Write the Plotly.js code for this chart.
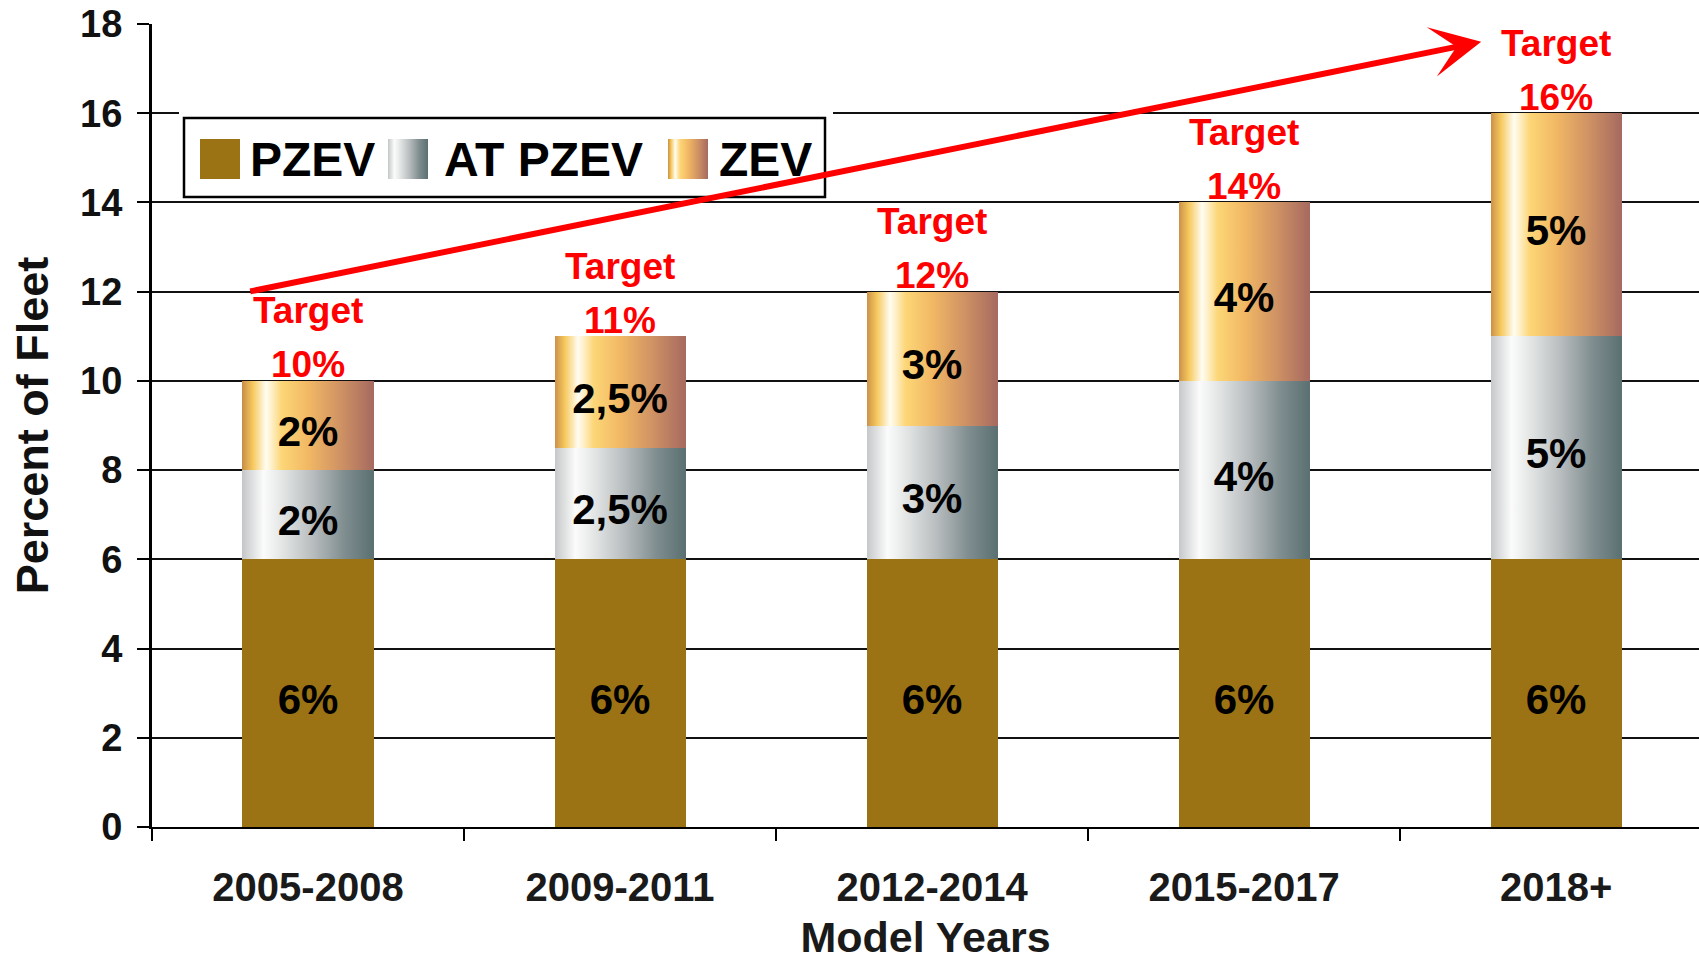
<!DOCTYPE html>
<html><head><meta charset="utf-8">
<script src="https://cdn.plot.ly/plotly-3.0.1.min.js"></script>
<style>html,body{margin:0;padding:0;background:#fff;} #chart{width:1699px;height:962px;}</style>
</head><body><div id="chart"></div>
<script>
const categories = ['2005-2008', '2009-2011', '2012-2014', '2015-2017', '2018+'];
const pzev = [6, 6, 6, 6, 6];
const atPzev = [2, 2.5, 3, 4, 5];
const zev = [2, 2.5, 3, 4, 5];
const seriesNames = ['PZEV', 'AT PZEV', 'ZEV'];
const yTicks = [0, 2, 4, 6, 8, 10, 12, 14, 16, 18];
const targetWord = 'Target';
const arrowFrom = [-0.19, 12.0];
const arrowTo = [3.76, 17.6];

const FONT = 'Liberation Sans, Arial, Helvetica, sans-serif';
const W = 1699, H = 962, ML = 152, MR = 0, MT = 24, MB = 135;
const PW = W - ML - MR, PH = H - MT - MB;
const px2x = p => (p - ML) / PW;
const px2y = p => (H - MB - p) / PH;
const fmt = v => String(v).replace('.', ',') + '%';
const totals = categories.map((_, i) => pzev[i] + atPzev[i] + zev[i]);
const colors = ['#9B7214', '#A9B1B3', '#F0B460'];

function barTrace(name, vals, color) {
  return {
    type: 'bar', name: name, x: categories, y: vals,
    text: vals.map(fmt), textposition: 'inside', insidetextanchor: 'middle',
    constraintext: 'none', textangle: 0,
    textfont: {family: FONT, size: 42, color: '#000', weight: 'bold'},
    marker: {color: color, line: {width: 0}},
    hoverinfo: 'skip', showlegend: false
  };
}
const data = [
  barTrace(seriesNames[0], pzev, colors[0]),
  barTrace(seriesNames[1], atPzev, colors[1]),
  barTrace(seriesNames[2], zev, colors[2])
];

const annotations = [];
categories.forEach((c, i) => {
  annotations.push({x: c, y: totals[i], text: targetWord, showarrow: false, yanchor: 'middle', yshift: 70,
    font: {family: FONT, size: 37, color: '#ff0000', weight: 'bold'}});
  annotations.push({x: c, y: totals[i], text: totals[i] + '%', showarrow: false, yanchor: 'middle', yshift: 16,
    font: {family: FONT, size: 37, color: '#ff0000', weight: 'bold'}});
});

// manual legend (box, swatches, labels)
const shapes = [];
shapes.push({type: 'rect', xref: 'paper', yref: 'paper', layer: 'above',
  x0: px2x(179), x1: px2x(833), y0: px2y(108), y1: px2y(201), fillcolor: '#fff', line: {width: 0}});
shapes.push({type: 'rect', xref: 'paper', yref: 'paper', layer: 'above',
  x0: px2x(184), x1: px2x(825), y0: px2y(118), y1: px2y(197), fillcolor: '#fff', line: {color: '#000', width: 2.5}});
const legSwatchX = [200, 388, 668];
const legTextX = [248, 442, 717];
seriesNames.forEach((n, i) => {
  shapes.push({type: 'rect', xref: 'paper', yref: 'paper', layer: 'above',
    x0: px2x(legSwatchX[i]), x1: px2x(legSwatchX[i] + 40), y0: px2y(139), y1: px2y(179),
    fillcolor: colors[i], line: {width: 0}});
  annotations.push({xref: 'paper', yref: 'paper', x: px2x(legTextX[i]), y: px2y(159), xanchor: 'left', yanchor: 'middle',
    text: n, showarrow: false, font: {family: FONT, size: 48, color: '#000', weight: 'bold'}});
});

annotations.push({x: arrowTo[0], y: arrowTo[1], ax: arrowFrom[0], ay: arrowFrom[1], axref: 'x', ayref: 'y',
  xref: 'x', yref: 'y', text: '', showarrow: true, arrowhead: 3, arrowsize: 1.4, arrowwidth: 6,
  arrowcolor: '#ff0000', standoff: 0, startstandoff: 0});

const layout = {
  width: W, height: H,
  margin: {l: ML, r: MR, t: MT, b: MB},
  paper_bgcolor: '#fff', plot_bgcolor: '#fff',
  barmode: 'stack', bargap: 0.58,
  font: {family: FONT, color: '#000', weight: 'bold'},
  showlegend: false,
  xaxis: {type: 'category', range: [-0.5, 4.458], showgrid: false, zeroline: false,
    showline: true, linecolor: '#000', linewidth: 2,
    ticks: 'outside', tickson: 'boundaries', ticklen: 12, tickwidth: 2, tickcolor: '#000',
    tickfont: {family: FONT, size: 40, color: '#1a1a1a', weight: 'bold'}, ticklabelstandoff: 24,
    title: {text: 'Model Years', standoff: 14, font: {family: FONT, size: 43, color: '#1a1a1a', weight: 'bold'}}},
  yaxis: {range: [0, 18], tickmode: 'array', tickvals: yTicks, ticktext: yTicks.map(String),
    showgrid: true, gridcolor: '#111', gridwidth: 2, zeroline: false,
    showline: true, linecolor: '#000', linewidth: 3,
    ticks: 'outside', ticklen: 12, tickwidth: 2, tickcolor: '#000',
    tickfont: {family: FONT, size: 38, color: '#111', weight: 'bold'}, ticklabelstandoff: 7,
    title: {text: 'Percent of Fleet', standoff: 18, font: {family: FONT, size: 45, color: '#111', weight: 'bold'}}},
  shapes: shapes,
  annotations: annotations
};

Plotly.newPlot('chart', data, layout, {staticPlot: true, displayModeBar: false}).then(gd => {
  const NS = 'http://www.w3.org/2000/svg';
  const defs = gd.querySelector('svg.main-svg defs');
  function addGrad(id, stops) {
    const g = document.createElementNS(NS, 'linearGradient');
    g.setAttribute('id', id);
    g.setAttribute('x1', '0'); g.setAttribute('y1', '0'); g.setAttribute('x2', '1'); g.setAttribute('y2', '0');
    stops.forEach(([o, c]) => {
      const s = document.createElementNS(NS, 'stop');
      s.setAttribute('offset', o); s.setAttribute('stop-color', c);
      g.appendChild(s);
    });
    defs.appendChild(g);
  }
  addGrad('gAT', [[0, '#c4c7c8'], [0.16, '#fbfbfb'], [0.3, '#e4e6e6'], [0.55, '#b5babc'], [0.78, '#7f8d8f'], [1, '#5b7071']]);
  addGrad('gZEV', [[0, '#c98f48'], [0.08, '#f7c95e'], [0.18, '#fffdf2'], [0.3, '#fcd677'], [0.5, '#f2b864'], [0.75, '#cf9264'], [1, '#a66a60']]);
  const grads = [null, 'url(#gAT)', 'url(#gZEV)'];
  const traces = gd.querySelectorAll('.barlayer .trace');
  traces.forEach((t, i) => {
    if (grads[i]) t.querySelectorAll('path').forEach(p => { p.style.fill = grads[i]; });
    t.querySelectorAll('text.bartext').forEach(tx => {
      tx.setAttribute('transform', 'translate(0,6) ' + (tx.getAttribute('transform') || ''));
    });
  });
  // legend swatches are shapes 2..4
  [1, 2].forEach(i => {
    const p = gd.querySelector('.shapelayer path[data-index="' + (2 + i) + '"]');
    if (p) p.style.fill = grads[i];
  });
});
</script>
</body></html>
